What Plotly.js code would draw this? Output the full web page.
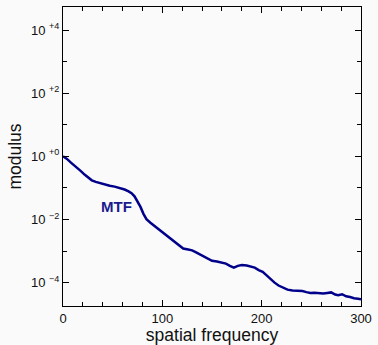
<!DOCTYPE html>
<html>
<head>
<meta charset="utf-8">
<script src="https://cdn.plot.ly/plotly-3.0.1.min.js"></script>
<style>html,body{margin:0;padding:0;background:#fafafa;}#chart{width:378px;height:345px;}</style>
</head>
<body>
<div id="chart"></div>
<script>
const freq = [0,4,8,14,18,22,26,29,33,37,42,47,52,57,62,66,69,72,75,78,81,84,88,92,97,101,105,109,113,117,121,126,130,134,138,142,146,150,155,160,164,168,172,176,180,185,189,193,197,201,205,209,213,217,221,226,231,236,241,245,249,253,258,262,266,270,274,277,281,285,289,293,297,300];
const modulus = [1.0,0.83,0.63,0.45,0.34,0.26,0.20,0.174,0.155,0.141,0.129,0.117,0.110,0.100,0.089,0.078,0.068,0.054,0.038,0.025,0.0151,0.0102,0.0079,0.0063,0.0046,0.0037,0.0030,0.0024,0.00186,0.00145,0.0012,0.00112,0.00105,0.00091,0.00078,0.00065,0.00054,0.00049,0.00047,0.00044,0.00040,0.00034,0.00030,0.00034,0.00036,0.00035,0.00033,0.00030,0.00025,0.00022,0.00017,0.000126,0.0001,0.000081,0.000069,0.00006,0.000056,0.000056,0.000054,0.00005,0.000047,0.000048,0.000047,0.000045,0.000047,0.000049,0.000042,0.00004,0.000043,0.000037,0.000035,0.000032,0.000031,0.00003];
const yTickVals = [1e-4,1e-2,1,1e2,1e4];
const yTickText = ['10 <sup>\u22124</sup>','10 <sup>\u22122</sup>','10 <sup>+0</sup>','10 <sup>+2</sup>','10 <sup>+4</sup>'];
const yMinorVals = [1e-3,1e-1,1e1,1e3];
const seriesName = 'MTF';

const trace = {
  x: freq, y: modulus, type: 'scatter', mode: 'lines', name: seriesName,
  line: {color: '#00008b', width: 2.5}
};
const fam = 'Liberation Sans, Arial, sans-serif';
const layout = {
  width: 378, height: 345,
  margin: {l: 63, r: 17, t: 7, b: 39},
  paper_bgcolor: '#fafafa', plot_bgcolor: '#fafafa',
  showlegend: false,
  font: {family: fam, color: '#111'},
  xaxis: {
    range: [0, 300], dtick: 100, tick0: 0,
    ticks: 'inside', ticklen: 6, tickwidth: 1, tickcolor: '#000',
    minor: {dtick: 20, tick0: 0, ticks: 'inside', ticklen: 4, tickcolor: '#000'},
    showline: true, linecolor: '#000', linewidth: 1, mirror: 'ticks',
    showgrid: false, zeroline: false,
    tickfont: {size: 13, family: fam, color: '#111'},
    title: {text: 'spatial frequency', font: {size: 17.5, family: fam, color: '#111'}, standoff: 2}
  },
  yaxis: {
    type: 'log', range: [-4.74, 4.73],
    tickvals: yTickVals, ticktext: yTickText,
    ticks: 'inside', ticklen: 6, tickwidth: 1, tickcolor: '#000',
    minor: {tickvals: yMinorVals, ticks: 'inside', ticklen: 4, tickcolor: '#000'},
    showline: true, linecolor: '#000', linewidth: 1, mirror: 'ticks',
    showgrid: false, zeroline: false,
    tickfont: {size: 13, family: fam, color: '#111'},
    title: {text: 'modulus', font: {size: 17.5, family: fam, color: '#111'}, standoff: 4}
  },
  annotations: [{
    x: 54, y: -1.59, xref: 'x', yref: 'y', text: '<b>' + seriesName + '</b>',
    showarrow: false, font: {size: 15, family: fam, color: '#1a1a8f'}
  }]
};
Plotly.newPlot('chart', [trace], layout, {displayModeBar: false, staticPlot: true});
</script>
</body>
</html>
